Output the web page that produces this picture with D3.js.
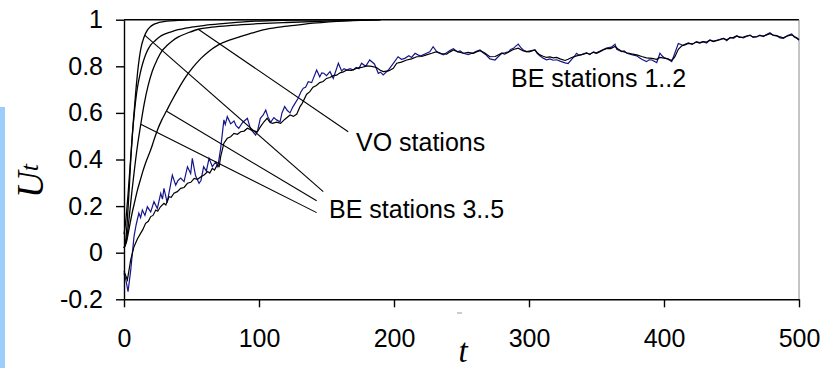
<!DOCTYPE html>
<html>
<head>
<meta charset="utf-8">
<script src="https://cdn.jsdelivr.net/npm/d3@7"></script>
<style>
  body { margin: 0; background: #fff; }
</style>
</head>
<body>
<div id="chart"></div>
<script>
// axis ticks
const xTicks = [0, 100, 200, 300, 400, 500];
const yTicks = [-0.2, 0, 0.2, 0.4, 0.6, 0.8, 1];

// smooth curves (t, U)
const curveA = [[0,0.08],[1,0.12],[2,0.18],[3,0.25],[4,0.33],[5,0.41],[6,0.49],[7,0.57],[8,0.64],[9,0.71],[10,0.77],[11,0.82],[12,0.86],[13,0.89],[14,0.91],[15.3,0.932],[17,0.952],[19,0.967],[22,0.98],[26,0.988],[32,0.994],[40,0.997],[55,1],[190,1]];
const curveB = [[0,0.02],[1,0.04],[2,0.1],[3,0.19],[4,0.29],[5,0.4],[6,0.49],[7,0.56],[8,0.62],[9,0.67],[10,0.71],[12,0.77],[14,0.815],[16,0.85],[18,0.875],[20,0.893],[23,0.91],[26,0.925],[30,0.938],[35,0.948],[40,0.957],[50,0.968],[60,0.976],[75,0.984],[91,0.992],[110,0.996],[140,0.999],[190,1]];
const curveC = [[0,0.02],[2,0.06],[4,0.16],[6,0.27],[8,0.37],[10,0.46],[12.4,0.55],[15,0.64],[18,0.72],[21,0.78],[24.7,0.83],[28,0.865],[32,0.89],[36,0.91],[40,0.925],[48,0.945],[55,0.959],[65,0.968],[80,0.976],[100,0.983],[120,0.988],[150,0.994],[190,1]];
const curveD = [[0,0.02],[2,0.05],[4,0.11],[6,0.17],[8,0.22],[10,0.27],[12,0.31],[14,0.35],[16,0.385],[18,0.415],[20,0.445],[22,0.48],[25,0.53],[28,0.57],[31.6,0.61],[35,0.648],[40,0.7],[45,0.748],[51,0.795],[57,0.834],[63,0.865],[69.6,0.891],[78,0.912],[86,0.927],[95,0.943],[103,0.956],[115,0.968],[128,0.977],[140,0.985],[152,0.991],[170,0.996],[190,1]];

// BE stations 1..2 (black and blue noisy series)
const beBlack = [[0,-0.08],[2.5,-0.117],[5,-0.03],[7.4,0.026],[10,0.06],[12.3,0.083],[14,0.1],[16,0.126],[18,0.135],[19.8,0.155],[21.5,0.16],[23.5,0.183],[25,0.178],[27,0.197],[29.6,0.212],[31,0.205],[33.3,0.24],[35,0.238],[37,0.255],[39.5,0.262],[42,0.276],[44.5,0.28],[47,0.298],[49.5,0.302],[52,0.319],[54.5,0.315],[57,0.326],[59.5,0.335],[62,0.348],[63.5,0.342],[65.4,0.362],[67,0.355],[69,0.376],[70.5,0.37],[71.6,0.412],[74,0.47],[76.5,0.491],[79,0.498],[81.5,0.512],[84,0.508],[86.4,0.519],[89,0.522],[91.4,0.534],[95,0.525],[98.8,0.519],[101,0.54],[103.7,0.562],[106,0.577],[108,0.56],[110,0.555],[113,0.56],[116,0.555],[119,0.572],[123,0.591],[125.5,0.585],[128,0.595],[130.4,0.627],[132,0.641],[135.3,0.68],[137.5,0.69],[140,0.71],[142.5,0.718],[145,0.73],[147.5,0.735],[150,0.748],[152.5,0.752],[155,0.76],[157.5,0.762],[160,0.772],[162.5,0.776],[165,0.784],[168.5,0.782],[172,0.791],[176,0.795],[180,0.802],[183.5,0.8],[187,0.795],[189.5,0.784],[192,0.777],[196,0.78],[199.5,0.791],[202,0.813],[205.5,0.818],[209.4,0.827],[213,0.832],[216.8,0.841],[220.5,0.842],[224,0.849],[228,0.856],[231.6,0.863],[235,0.855],[239,0.852],[241.5,0.862],[244,0.87],[247.5,0.862],[251.4,0.856],[255,0.86],[258.8,0.856],[261,0.862],[263.7,0.867],[267,0.858],[271,0.841],[275,0.842],[279.8,0.856],[282,0.852],[284.7,0.86],[288.4,0.872],[292,0.878],[295.8,0.866],[300,0.862],[304.4,0.87],[306,0.86],[308,0.849],[310.5,0.843],[313,0.838],[315.5,0.84],[318,0.836],[320.5,0.838],[323,0.832],[326.7,0.825],[329,0.83],[331.6,0.838],[335.3,0.845],[339,0.85],[342.7,0.856],[345,0.852],[347.7,0.86],[350,0.856],[352.6,0.863],[355,0.87],[357.5,0.877],[360.5,0.876],[363.7,0.885],[366,0.874],[368.6,0.865],[372.4,0.858],[376,0.853],[379.8,0.849],[383.5,0.842],[387,0.836],[391,0.834],[394.6,0.83],[397,0.838],[400,0.835],[403,0.832],[405.7,0.825],[408,0.84],[410.6,0.873],[413,0.887],[415.5,0.892],[418,0.898],[421,0.896],[424,0.904],[426.5,0.9],[429,0.906],[431.5,0.904],[434,0.912],[436.5,0.906],[439,0.91],[441.5,0.914],[444,0.92],[446.5,0.914],[449,0.922],[451.5,0.924],[453.8,0.93],[456,0.924],[458.8,0.925],[461,0.93],[463.7,0.933],[466,0.926],[468.7,0.928],[471,0.932],[473.6,0.93],[476,0.935],[478.5,0.94],[481,0.934],[483.5,0.932],[486,0.926],[488.4,0.922],[491.5,0.93],[494.6,0.935],[496.5,0.928],[498.3,0.922],[500,0.915]];
const beBlue = [[0,-0.088],[1.5,-0.12],[3,-0.167],[5,-0.074],[7.4,0.069],[9,0.12],[11,0.17],[12.3,0.15],[13.6,0.183],[15.5,0.16],[17.3,0.197],[19.8,0.175],[22.2,0.219],[24.7,0.19],[27.2,0.255],[28.5,0.23],[29.6,0.276],[32,0.215],[35.8,0.333],[38.3,0.29],[40,0.31],[42,0.32],[44.5,0.305],[47,0.369],[49.4,0.34],[50.6,0.405],[53,0.33],[55.6,0.298],[57,0.31],[59,0.369],[61,0.35],[63,0.405],[65.4,0.37],[68,0.39],[69.5,0.37],[71.6,0.448],[74,0.57],[75,0.55],[76.5,0.584],[79,0.553],[81.5,0.565],[83,0.545],[85,0.534],[88,0.56],[91.4,0.577],[93.8,0.53],[97.5,0.505],[99,0.525],[101,0.577],[103,0.59],[105,0.612],[106.5,0.585],[108.6,0.56],[111,0.58],[113,0.57],[115.6,0.562],[117,0.6],[119,0.627],[121,0.61],[123,0.6],[125,0.625],[126.7,0.641],[129,0.663],[131,0.69],[132.8,0.706],[134.5,0.71],[136.5,0.734],[139,0.73],[142.7,0.784],[145,0.755],[146.5,0.772],[148,0.77],[150,0.76],[152.6,0.777],[155,0.748],[158.8,0.813],[161.2,0.78],[163,0.79],[165,0.784],[167.5,0.79],[169.9,0.784],[172,0.795],[174,0.79],[176,0.813],[179,0.8],[182,0.827],[185.5,0.81],[188.4,0.77],[190,0.775],[192,0.763],[195.8,0.784],[199.5,0.813],[203,0.841],[205.5,0.83],[208,0.834],[211,0.845],[213,0.838],[215.6,0.856],[218,0.848],[220,0.845],[224,0.856],[226.5,0.862],[229,0.884],[232,0.86],[236.5,0.849],[240,0.862],[242,0.87],[244,0.876],[247,0.862],[249,0.866],[251.4,0.856],[255,0.85],[258.8,0.858],[261,0.864],[263.7,0.87],[266,0.858],[268,0.85],[271,0.832],[274.8,0.827],[277,0.84],[279.8,0.856],[282,0.858],[284.7,0.862],[286.5,0.872],[288.4,0.877],[292,0.895],[294,0.88],[295.8,0.87],[298,0.862],[300,0.865],[304.4,0.87],[306,0.856],[308,0.845],[310.5,0.835],[313,0.828],[315.5,0.832],[318,0.826],[320.5,0.828],[323,0.822],[326.7,0.815],[329,0.812],[331.6,0.83],[333.5,0.842],[335.3,0.856],[337,0.848],[339,0.85],[342.7,0.858],[345,0.85],[347.7,0.862],[350,0.858],[352.6,0.865],[355,0.872],[357.5,0.878],[361,0.882],[363.7,0.895],[365,0.873],[368.6,0.863],[370.5,0.866],[372.4,0.856],[376,0.85],[379.8,0.845],[381.5,0.838],[383.5,0.83],[385,0.826],[387,0.82],[389,0.828],[391,0.827],[394.6,0.816],[397,0.856],[398.5,0.845],[400,0.838],[403,0.83],[405.7,0.82],[408,0.856],[410.6,0.898],[414,0.89],[416,0.896],[418,0.9],[421,0.894],[424,0.906],[426.5,0.902],[429,0.906],[431.5,0.9],[434,0.913],[436.5,0.908],[439,0.912],[441.5,0.916],[444,0.92],[446.5,0.91],[449,0.924],[451.5,0.92],[453.8,0.93],[456,0.926],[458.8,0.922],[461,0.928],[463.7,0.934],[466,0.924],[468.7,0.926],[471,0.934],[473.6,0.928],[476,0.936],[478.5,0.944],[481,0.932],[483.5,0.93],[486,0.922],[488.4,0.92],[491.5,0.932],[494.6,0.939],[496.5,0.926],[498.3,0.92],[500,0.912]];

// annotation leader lines: [t1, U1, t2, U2]
const voLines = [[55, 0.959, 166.1, 0.519]];
const be35Lines = [[15.3, 0.934, 147.6, 0.262], [31.6, 0.607, 142.7, 0.223], [12.4, 0.551, 142.7, 0.172]];

const sans = "'Liberation Sans', Arial, sans-serif";
const serif = "'Liberation Serif', 'Times New Roman', serif";

const svg = d3.select("#chart").append("svg").attr("width", 838).attr("height", 370);

// light blue strip on the left edge
svg.append("rect").attr("x", 0).attr("y", 107).attr("width", 5).attr("height", 261).attr("fill", "#9dcdfd");

const x = d3.scaleLinear().domain([0, 500]).range([124, 799]);
const y = d3.scaleLinear().domain([-0.2, 1]).range([299.3, 19.7]);

// frame: top black, right grey
svg.append("line").attr("x1", x(0)).attr("x2", x(500)).attr("y1", y(1)).attr("y2", y(1))
  .attr("stroke", "#000").attr("stroke-width", 1.5);
svg.append("line").attr("x1", x(500)).attr("x2", x(500)).attr("y1", y(1)).attr("y2", y(-0.2))
  .attr("stroke", "#8c8c8c").attr("stroke-width", 1);

const smooth = d3.line().x(d => x(d[0])).y(d => y(d[1])).curve(d3.curveMonotoneX);
const jagged = d3.line().x(d => x(d[0])).y(d => y(d[1]));

[curveA, curveB, curveC, curveD].forEach(c => {
  svg.append("path").attr("d", smooth(c)).attr("fill", "none")
    .attr("stroke", "#000").attr("stroke-width", 1.3);
});

svg.append("path").attr("d", jagged(beBlue)).attr("fill", "none")
  .attr("stroke", "#16168c").attr("stroke-width", 1.2);
svg.append("path").attr("d", jagged(beBlack)).attr("fill", "none")
  .attr("stroke", "#000").attr("stroke-width", 1.2);

voLines.concat(be35Lines).forEach(l => {
  svg.append("line").attr("x1", x(l[0])).attr("y1", y(l[1])).attr("x2", x(l[2])).attr("y2", y(l[3]))
    .attr("stroke", "#000").attr("stroke-width", 1.1);
});

// axes
const yAxis = svg.append("g").attr("transform", `translate(${x(0)},0)`)
  .call(d3.axisLeft(y).tickValues(yTicks).tickSize(8).tickSizeOuter(0).tickPadding(13)
    .tickFormat(d => String(+d.toFixed(1))));
const xAxis = svg.append("g").attr("transform", `translate(0,${y(-0.2)})`)
  .call(d3.axisBottom(x).tickValues(xTicks).tickSize(8).tickSizeOuter(0).tickPadding(22));
[yAxis, xAxis].forEach(g => {
  g.selectAll("path, line").attr("stroke", "#000").attr("stroke-width", 1.4);
  g.selectAll("text").style("font-size", "25px").style("font-family", sans).attr("fill", "#000");
});

// labels
const lbl = (txt, tx, ty) => svg.append("text").attr("x", tx).attr("y", ty)
  .style("font-size", "25px").style("font-family", sans).attr("fill", "#000").text(txt);
lbl("BE stations 1..2", 511, 87);
lbl("VO stations", 356, 151);
lbl("BE stations 3..5", 329, 218);

svg.append("text").attr("x", 463).attr("y", 362).attr("text-anchor", "middle")
  .style("font-family", serif).style("font-style", "italic")
  .style("font-size", "33px").text("t");
svg.append("line").attr("x1", 457).attr("x2", 462).attr("y1", 313).attr("y2", 313)
  .attr("stroke", "#999").attr("stroke-width", 1);

const ylab = svg.append("text").attr("transform", "translate(43,181) rotate(-90)")
  .attr("text-anchor", "middle")
  .style("font-family", serif).style("font-style", "italic")
  .style("font-size", "37px");
ylab.append("tspan").text("U");
ylab.append("tspan").style("font-size", "26px").attr("dy", -5).text("t");
</script>
</body>
</html>
